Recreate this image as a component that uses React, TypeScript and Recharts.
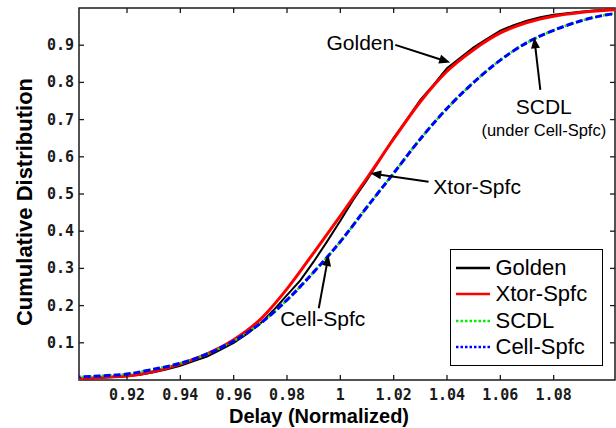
import React from 'react';
import {
  LineChart,
  Line,
  XAxis,
  YAxis,
  ReferenceArea,
  ReferenceLine,
  ReferenceDot,
  Legend,
} from 'recharts';

// ---------------- data ----------------
const gridX = [0.90, 0.91, 0.92, 0.93, 0.94, 0.95, 0.96, 0.97, 0.98, 0.99, 1.00, 1.01, 1.02, 1.03, 1.04, 1.05, 1.06, 1.07, 1.08, 1.09, 1.10, 1.11];
const xtorSpfc = [0.003, 0.007, 0.011, 0.023, 0.043, 0.070, 0.108, 0.163, 0.245, 0.342, 0.441, 0.543, 0.648, 0.748, 0.830, 0.888, 0.933, 0.961, 0.978, 0.988, 0.994, 0.997];
const scdl = [0.007, 0.011, 0.016, 0.029, 0.045, 0.070, 0.105, 0.152, 0.215, 0.290, 0.372, 0.465, 0.556, 0.648, 0.730, 0.800, 0.860, 0.907, 0.940, 0.965, 0.982, 0.990];
const cellSpfc = [0.007, 0.011, 0.016, 0.029, 0.045, 0.070, 0.105, 0.152, 0.215, 0.290, 0.372, 0.465, 0.556, 0.648, 0.730, 0.800, 0.860, 0.907, 0.940, 0.965, 0.982, 0.990];

const goldenX = [0.900, 0.905, 0.910, 0.915, 0.920, 0.925, 0.930, 0.935, 0.940, 0.945, 0.950, 0.955, 0.960, 0.965, 0.970, 0.975, 0.980, 0.985, 0.990, 0.995, 1.000, 1.005, 1.010, 1.015, 1.020, 1.025, 1.030, 1.035, 1.040, 1.045, 1.050, 1.055, 1.060, 1.065, 1.070, 1.075, 1.080, 1.085, 1.090, 1.095, 1.100, 1.105, 1.110];
const goldenY = [0.002, 0.004, 0.006, 0.008, 0.010, 0.014, 0.021, 0.029, 0.038, 0.051, 0.063, 0.081, 0.100, 0.124, 0.152, 0.188, 0.228, 0.268, 0.318, 0.372, 0.428, 0.486, 0.538, 0.594, 0.651, 0.701, 0.753, 0.794, 0.838, 0.866, 0.894, 0.917, 0.939, 0.954, 0.966, 0.975, 0.982, 0.986, 0.990, 0.993, 0.995, 0.997, 0.998];

const xTicks = [0.92, 0.94, 0.96, 0.98, 1.0, 1.02, 1.04, 1.06, 1.08];
const xTickLabels = ['0.92', '0.94', '0.96', '0.98', '1', '1.02', '1.04', '1.06', '1.08'];
const yTicks = [0.1, 0.2, 0.3, 0.4, 0.5, 0.6, 0.7, 0.8, 0.9];
const yTickLabels = ['0.1', '0.2', '0.3', '0.4', '0.5', '0.6', '0.7', '0.8', '0.9'];

const seriesNames = ['Golden', 'Xtor-Spfc', 'SCDL', 'Cell-Spfc'];

// annotations: text anchor and arrow (tail -> head) in data coordinates
const annotTexts = [
  { text: 'Golden', x: 1.0075, y: 0.906, size: 21 },
  { text: 'Xtor-Spfc', x: 1.0513, y: 0.52, size: 21 },
  { text: 'SCDL', x: 1.0763, y: 0.735, size: 21 },
  { text: '(under Cell-Spfc)', x: 1.0763, y: 0.672, size: 16.5 },
  { text: 'Cell-Spfc', x: 0.9934, y: 0.166, size: 21 },
];
const annotArrows = [
  { from: { x: 1.0206, y: 0.901 }, to: { x: 1.0412, y: 0.8535 } },
  { from: { x: 1.0331, y: 0.533 }, to: { x: 1.0112, y: 0.5556 } },
  { from: { x: 1.075, y: 0.78 }, to: { x: 1.0727, y: 0.921 } },
  { from: { x: 0.9919, y: 0.193 }, to: { x: 0.9956, y: 0.336 } },
];

const toPoints = (xs: number[], ys: number[]) => xs.map((x, i) => ({ x, y: ys[i] }));
const goldenData = toPoints(goldenX, goldenY);
const xtorData = toPoints(gridX, xtorSpfc);
const scdlData = toPoints(gridX, scdl);
const cellData = toPoints(gridX, cellSpfc);

// ---------------- layout / style ----------------
const W = 616;
const H = 428;
const MARGIN = { top: 8, right: 1, bottom: 0, left: 0 };
const Y_AXIS_W = 79;
const X_AXIS_H = 48;
const PLOT_LEFT = MARGIN.left + Y_AXIS_W;
const PLOT_RIGHT = W - MARGIN.right;
const PLOT_TOP = MARGIN.top;
const PLOT_BOTTOM = H - MARGIN.bottom - X_AXIS_H;
const X_DOMAIN: [number, number] = [0.902, 1.103];
const Y_DOMAIN: [number, number] = [0, 1];
const TICK_LEN = 5;
const AXIS_COLOR = '#1a1a1a';
const TICK_FONT = { fontFamily: '"DejaVu Sans Mono", monospace', fontWeight: 700, fontSize: 15, fill: '#1a1a1a' };
const SANS = '"Liberation Sans", Arial, Helvetica, sans-serif';

const seriesStyles = [
  { color: '#000000', width: 2, dash: undefined as string | undefined, legendDash: undefined as string | undefined },
  { color: '#ff0000', width: 3, dash: undefined, legendDash: undefined },
  { color: '#00ee00', width: 2.5, dash: '2 2', legendDash: '2.5 2' },
  { color: '#0000ff', width: 3, dash: '7 3', legendDash: '2.5 2' },
];

const XTick = (props: any) => {
  const { x, index } = props;
  return (
    <g>
      <line x1={x} x2={x} y1={PLOT_BOTTOM} y2={PLOT_BOTTOM - TICK_LEN} stroke={AXIS_COLOR} strokeWidth={1.3} />
      <line x1={x} x2={x} y1={PLOT_TOP} y2={PLOT_TOP + TICK_LEN} stroke={AXIS_COLOR} strokeWidth={1.3} />
      <text x={x} y={PLOT_BOTTOM + 20} textAnchor="middle" {...TICK_FONT}>
        {xTickLabels[index]}
      </text>
    </g>
  );
};

const YTick = (props: any) => {
  const { y, index } = props;
  return (
    <g>
      <line x1={PLOT_LEFT} x2={PLOT_LEFT + TICK_LEN} y1={y} y2={y} stroke={AXIS_COLOR} strokeWidth={1.3} />
      <line x1={PLOT_RIGHT} x2={PLOT_RIGHT - TICK_LEN} y1={y} y2={y} stroke={AXIS_COLOR} strokeWidth={1.3} />
      <text x={PLOT_LEFT - 5} y={y} textAnchor="end" dominantBaseline="central" {...TICK_FONT}>
        {yTickLabels[index]}
      </text>
    </g>
  );
};

const XTitle = () => (
  <text x={319} y={PLOT_BOTTOM + 43} textAnchor="middle" fontFamily={SANS} fontWeight={700} fontSize={20} fill="#000">
    Delay (Normalized)
  </text>
);

const YTitle = () => (
  <text
    x={24}
    y={202}
    transform="rotate(-90 24 202)"
    textAnchor="middle"
    dominantBaseline="central"
    fontFamily={SANS}
    fontWeight={700}
    fontSize={22}
    fill="#000"
  >
    Cumulative Distribution
  </text>
);

const ArrowShape = (props: any) => {
  const { x1, y1, x2, y2 } = props;
  const dx = x2 - x1;
  const dy = y2 - y1;
  const len = Math.hypot(dx, dy) || 1;
  const ux = dx / len;
  const uy = dy / len;
  const hl = 11;
  const hw = 4.5;
  const bx = x2 - ux * hl;
  const by = y2 - uy * hl;
  const pts = `${x2},${y2} ${bx - uy * hw},${by + ux * hw} ${bx + uy * hw},${by - ux * hw}`;
  return (
    <g>
      <line x1={x1} y1={y1} x2={bx + ux * 1} y2={by + uy * 1} stroke="#000" strokeWidth={2} />
      <polygon points={pts} fill="#000" />
    </g>
  );
};

const makeTextShape = (text: string, size: number) => (props: any) => (
  <text x={props.cx} y={props.cy} textAnchor="middle" dominantBaseline="central" fontFamily={SANS} fontSize={size} fill="#000">
    {text}
  </text>
);

const LegendBox = () => (
  <div
    style={{
      boxSizing: 'border-box',
      width: 153,
      height: 117,
      border: '1.5px solid #000',
      background: '#fff',
      paddingTop: 5,
    }}
  >
    {seriesNames.map((n, i) => (
      <div key={n} style={{ display: 'flex', alignItems: 'center', height: 26.3, paddingLeft: 4.5 }}>
        <svg width={34} height={6} style={{ display: 'block' }}>
          <line x1={0} y1={3} x2={34} y2={3} stroke={seriesStyles[i].color} strokeWidth={2.5} strokeDasharray={seriesStyles[i].legendDash} />
        </svg>
        <span style={{ marginLeft: 6, fontFamily: SANS, fontSize: 22, lineHeight: '26px', color: '#000', whiteSpace: 'nowrap' }}>{n}</span>
      </div>
    ))}
  </div>
);

const seriesData = [goldenData, xtorData, scdlData, cellData];

export default function App() {
  return (
    <div style={{ position: 'absolute', left: 0, top: 0, width: W, height: H, background: '#fff' }}>
      <LineChart width={W} height={H} margin={MARGIN}>
        <XAxis
          dataKey="x"
          type="number"
          domain={X_DOMAIN}
          allowDataOverflow
          ticks={xTicks}
          interval={0}
          tick={<XTick />}
          tickLine={false}
          axisLine={false}
          height={X_AXIS_H}
          label={<XTitle />}
        />
        <YAxis
          type="number"
          domain={Y_DOMAIN}
          allowDataOverflow
          ticks={yTicks}
          interval={0}
          tick={<YTick />}
          tickLine={false}
          axisLine={false}
          width={Y_AXIS_W}
          label={<YTitle />}
        />
        {seriesNames.map((n, i) => (
          <Line
            key={n}
            name={n}
            data={seriesData[i]}
            dataKey="y"
            type={i === 0 ? 'linear' : 'monotone'}
            stroke={seriesStyles[i].color}
            strokeWidth={seriesStyles[i].width}
            strokeDasharray={seriesStyles[i].dash}
            dot={false}
            activeDot={false}
            isAnimationActive={false}
          />
        ))}
        <ReferenceArea
          x1={X_DOMAIN[0]}
          x2={X_DOMAIN[1]}
          y1={Y_DOMAIN[0]}
          y2={Y_DOMAIN[1]}
          fill="none"
          fillOpacity={0}
          stroke={AXIS_COLOR}
          strokeWidth={1.5}
          ifOverflow="visible"
        />
        {annotArrows.map((a, i) => (
          <ReferenceLine key={'arr' + i} segment={[a.from, a.to]} shape={ArrowShape} ifOverflow="visible" />
        ))}
        {annotTexts.map((t, i) => (
          <ReferenceDot key={'txt' + i} x={t.x} y={t.y} r={0} shape={makeTextShape(t.text, t.size)} ifOverflow="visible" />
        ))}
        <Legend
          layout="vertical"
          align="center"
          verticalAlign="middle"
          content={<LegendBox />}
          wrapperStyle={{ left: 450, top: 249, width: 153, height: 117 }}
        />
      </LineChart>
    </div>
  );
}
